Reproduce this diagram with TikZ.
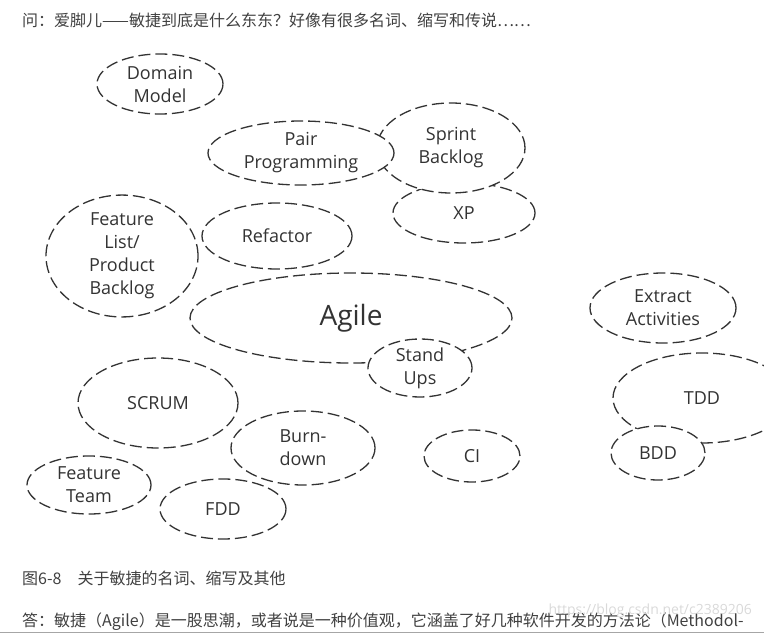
\documentclass[tikz,border=0pt]{standalone}
\usepackage{fontspec}
\setmainfont{Open Sans}
\newfontfamily\cjk{Noto Sans CJK SC}
\usetikzlibrary{shapes.geometric}

\tikzset{
  term/.style={ellipse, draw=black!80, line width=1.3pt, dash pattern=on 12pt off 5pt,
    fill=white, inner sep=0pt, align=center, text=black!80,
    font=\fontsize{18}{23}\selectfont},
  cnline/.style={anchor=west, inner sep=0pt, text=black!75,
    font=\cjk\fontsize{16}{18}\selectfont}
}

\begin{document}
\begin{tikzpicture}[x=1pt, y=-1pt]
    \useasboundingbox (0,0) rectangle (764,634);
    \clip (0,0) rectangle (764,634);

    % Question line
    \node[cnline] (question) at (22,20) {问：爱脚儿——敏捷到底是什么东东？好像有很多名词、缩写和传说……};

    % Terms round Agile
    \node[term, minimum width=126pt, minimum height=60pt] (domain) at (160,84) {Domain\\Model};
    \node[term, minimum width=142pt, minimum height=60pt] (xp) at (464,213) {XP};
    \node[term, minimum width=148pt, minimum height=90pt] (sprint) at (451,148) {Sprint\\Backlog};
    \node[term, minimum width=186pt, minimum height=64pt] (pair) at (301,153) {Pair\\Programming};
    \node[term, minimum width=150pt, minimum height=66pt] (refactor) at (277,236) {Refactor};
    \node[term, minimum width=152pt, minimum height=106pt] (flist) at (122,256) {Feature\\List/\\Product\\Backlog};

    % Agile itself, Stand Ups sits on its rim
    \node[term, minimum width=322pt, minimum height=90pt, font=\fontsize{28}{30}\selectfont] (agile) at (351,318) {Agile};
    \node[term, minimum width=104pt, minimum height=56pt] (standups) at (420,368) {Stand\\Ups};

    \node[term, minimum width=160pt, minimum height=90pt] (scrum) at (158,403) {SCRUM};
    \node[term, minimum width=144pt, minimum height=74pt] (burn) at (303,448) {Burn-\\down};
    \node[term, minimum width=96pt, minimum height=52pt] (ci) at (472,456) {CI};
    \node[term, minimum width=124pt, minimum height=58pt] (fteam) at (89,485) {Feature\\Team};
    \node[term, minimum width=126pt, minimum height=60pt] (fdd) at (223,509) {FDD};

    % Right hand group
    \node[term, minimum width=146pt, minimum height=70pt] (extract) at (663,308) {Extract\\Activities};
    \node[term, minimum width=178pt, minimum height=90pt] (tdd) at (702,398) {TDD};
    \node[term, minimum width=94pt, minimum height=54pt] (bdd) at (658,453) {BDD};

    % Caption and answer line
    \node[cnline] (caption) at (22,578) {图6-8\quad 关于敏捷的名词、缩写及其他};
    \node[cnline] (answer) at (22,622) {答：敏捷（Agile）是一股思潮，或者说是一种价值观，它涵盖了好几种软件开发的方法论（Methodol-};
    \node[anchor=east, inner sep=0pt, text=black!15, font=\fontsize{14}{16}\selectfont] (mark) at (752,611) {https://blog.csdn.net/c2389206};
    \draw[black!35, line width=1pt] (0,632.5) -- (764,632.5);
\end{tikzpicture}
\end{document}
